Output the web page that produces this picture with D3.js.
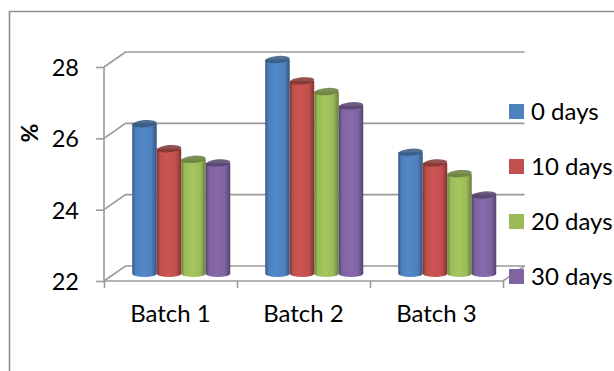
<!DOCTYPE html>
<html>
<head>
<meta charset="utf-8">
<script src="https://d3js.org/d3.v7.min.js"></script>
<style>
  html, body { margin: 0; padding: 0; background: #fff; overflow: hidden; }
  text { font-family: Lato, "Open Sans", sans-serif; fill: #000; }
</style>
</head>
<body>
<div id="chart"></div>
<script>
var batches = ["Batch 1", "Batch 2", "Batch 3"];
var seriesNames = ["0 days", "10 days", "20 days", "30 days"];
var days0 = [26.2, 28, 25.4];
var days10 = [25.5, 27.4, 25.1];
var days20 = [25.2, 27.1, 24.8];
var days30 = [25.1, 26.7, 24.2];
var seriesValues = [days0, days10, days20, days30];
var yTicks = [22, 24, 26, 28];
var colors = ["#4f81bd", "#c0504d", "#9bbb59", "#8064a2"];
var lightColors = ["#4f88ca", "#cd5454", "#a5c75f", "#8869ad"];
var darkColors = ["#34587f", "#7f3533", "#677d3b", "#55436c"];

var width = 614, height = 371;
var left = 104, right = 503, top0 = 67, bottom = 281;
var depthX = 21.5, depthY = -15;   // back wall offset
var axisGrey = "#9a9a9a";

var svg = d3.select("#chart").append("svg")
  .attr("width", width)
  .attr("height", height)
  .style("display", "block");

// outer chart frame, runs off the right and bottom of the picture
svg.append("path")
  .attr("d", "M9.5,371V11.5H614")
  .attr("fill", "none")
  .attr("stroke", "#8e8e8e")
  .attr("stroke-width", 1.6);

var y = d3.scaleLinear().domain([22, 28]).range([bottom, top0]);
var x = d3.scaleBand().domain(batches).range([left, right]);
var xEdges = d3.scaleLinear().domain([0, batches.length]).range([left, right]);
var inner = d3.scaleBand().domain(seriesNames).range([-49, 49]);

// gradients for the cylinders
var defs = svg.append("defs");
seriesNames.forEach(function(s, i) {
  var grad = defs.append("linearGradient")
    .attr("id", "cyl" + i)
    .attr("x1", 0).attr("x2", 1).attr("y1", 0).attr("y2", 0);
  grad.append("stop").attr("offset", "0%").attr("stop-color", darkColors[i]);
  grad.append("stop").attr("offset", "14%").attr("stop-color", colors[i]);
  grad.append("stop").attr("offset", "45%").attr("stop-color", lightColors[i]);
  grad.append("stop").attr("offset", "78%").attr("stop-color", colors[i]);
  grad.append("stop").attr("offset", "100%").attr("stop-color", darkColors[i]);
});

// back wall lines and the diagonals on the side wall
var walls = svg.append("g")
  .attr("fill", "none")
  .attr("stroke", axisGrey)
  .attr("stroke-width", 1.6);

walls.selectAll(".wall")
  .data(yTicks)
  .enter().append("path")
  .attr("class", "wall")
  .attr("d", function(d) {
    return "M" + left + "," + y(d) + "L" + (left + depthX) + "," + (y(d) + depthY) + "H" + (right + depthX);
  });

walls.append("path")
  .attr("d", "M" + right + "," + bottom + "L" + (right + depthX) + "," + (bottom + depthY));

// y axis
var yAxis = svg.append("g")
  .attr("transform", "translate(" + left + ",0)")
  .call(d3.axisLeft(y).tickValues(yTicks).tickSize(8).tickPadding(17).tickFormat(d3.format("d")));
yAxis.selectAll("path, line").attr("stroke", axisGrey).attr("stroke-width", 1.6);
yAxis.selectAll("text").style("font-size", "23.5px").attr("dy", "0.36em").attr("fill", "#000");
yAxis.select(".domain").attr("d", "M0," + top0 + "V" + bottom);

// x axis, ticks sit between the batches
var xAxis = svg.append("g")
  .attr("transform", "translate(0," + bottom + ")")
  .call(d3.axisBottom(xEdges).tickValues([0, 1, 2, 3]).tickSize(7).tickFormat(""));
xAxis.selectAll("path, line").attr("stroke", axisGrey).attr("stroke-width", 1.6);
xAxis.select(".domain").attr("d", "M" + left + ",0H" + right);

svg.selectAll(".batch-label")
  .data(batches)
  .enter().append("text")
  .attr("class", "batch-label")
  .attr("x", function(d) { return x(d) + x.bandwidth() / 2; })
  .attr("y", 322)
  .attr("text-anchor", "middle")
  .style("font-size", "24px")
  .text(function(d) { return d; });

// axis title
svg.append("text")
  .attr("transform", "translate(38,133) rotate(-90)")
  .attr("text-anchor", "middle")
  .style("font-size", "23px")
  .style("font-weight", "bold")
  .text("%");

// cylinders
var rx = inner.bandwidth() / 2, ry = 3.6;
var barGroups = svg.selectAll(".batch")
  .data(batches)
  .enter().append("g")
  .attr("class", "batch")
  .attr("transform", function(d) {
    return "translate(" + (x(d) + x.bandwidth() / 2 + depthX / 2) + "," + (depthY / 2) + ")";
  });

seriesNames.forEach(function(s, i) {
  var bars = barGroups.append("g")
    .datum(function(d, j) { return seriesValues[i][j]; });

  bars.append("path")
    .attr("fill", "url(#cyl" + i + ")")
    .attr("d", function(d) {
      var x0 = inner(s), x1 = x0 + inner.bandwidth();
      return "M" + x0 + "," + y(d) + "V" + y(22)
        + "A" + rx + "," + ry + " 0 0 0 " + x1 + "," + y(22)
        + "V" + y(d) + "Z";
    });

  bars.append("ellipse")
    .attr("cx", inner(s) + rx)
    .attr("cy", function(d) { return y(d); })
    .attr("rx", rx)
    .attr("ry", ry)
    .attr("fill", darkColors[i])
    .attr("fill-opacity", 0.85)
    .attr("transform", function(d) {
      return "rotate(-5," + (inner(s) + rx) + "," + y(d) + ")";
    });
});

// legend
var legendY = d3.scalePoint().domain(seriesNames).range([111.5, 276.5]);
var legend = svg.selectAll(".legend")
  .data(seriesNames)
  .enter().append("g")
  .attr("class", "legend")
  .attr("transform", function(d) { return "translate(509," + legendY(d) + ")"; });

legend.append("rect")
  .attr("y", -7.5)
  .attr("width", 15)
  .attr("height", 15)
  .attr("fill", function(d, i) { return colors[i]; });

legend.append("text")
  .attr("x", 22)
  .attr("dy", "0.36em")
  .style("font-size", "24px")
  .text(function(d) { return d; });
</script>
</body>
</html>
